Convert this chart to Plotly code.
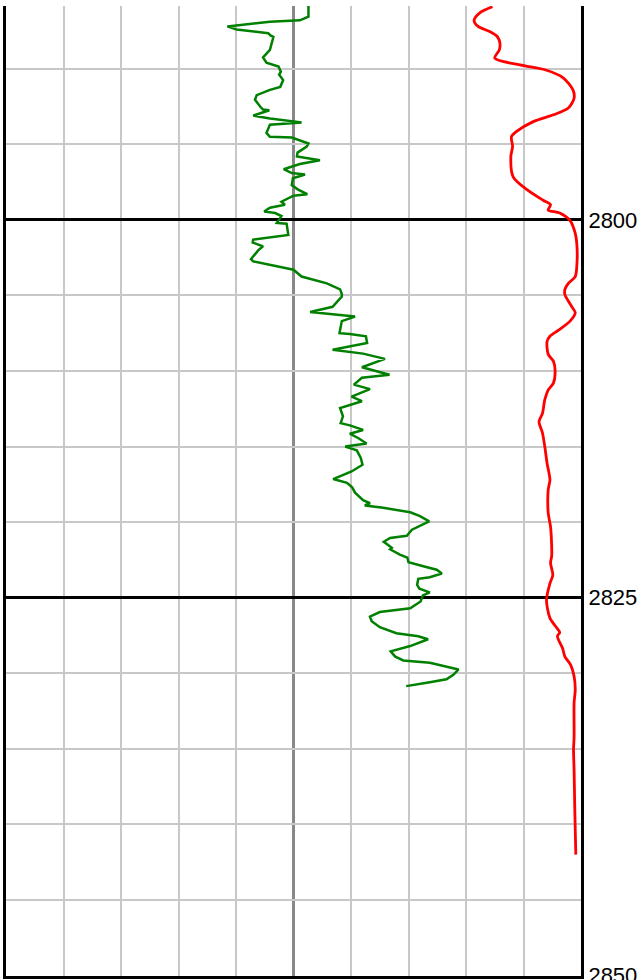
import plotly.graph_objects as go

# Green curve (track value 0-100, depth)
green_depth = [2785.85, 2786.55, 2786.8, 2786.9, 2787.2, 2787.4, 2787.65, 2787.8, 2787.9, 2788.75,
               2789.25, 2789.6, 2789.85, 2790.2, 2790.4, 2790.75, 2791.2, 2791.4, 2791.75, 2792.05,
               2792.5, 2792.7, 2792.75, 2793.1, 2793.3, 2793.55, 2793.7, 2794.25, 2794.5, 2794.55,
               2794.95, 2795.15, 2795.55, 2795.8, 2796.05, 2796.3, 2796.65, 2796.9, 2797.0, 2797.25,
               2797.7, 2798.0, 2798.3, 2798.4, 2798.8, 2799.0, 2799.2, 2799.45, 2799.55, 2799.75,
               2800.2, 2800.25, 2801.0, 2801.3, 2801.5, 2801.75, 2802.0, 2802.3, 2802.6, 2802.75,
               2803.3, 2803.75, 2804.2, 2804.6, 2804.9, 2805.07, 2805.6, 2805.75, 2806.1, 2806.4,
               2806.7, 2807.5, 2807.55, 2807.7, 2808.15, 2808.6, 2808.85, 2809.2, 2809.75, 2810.25,
               2810.45, 2810.9, 2811.2, 2811.7, 2812.0, 2812.45, 2813.0, 2813.45, 2813.6, 2813.9,
               2814.15, 2814.45, 2814.8, 2815.0, 2815.25, 2815.75, 2816.2, 2816.65, 2817.15, 2817.4,
               2817.7, 2818.05, 2818.55, 2818.75, 2818.9, 2819.05, 2819.35, 2819.6, 2819.95, 2820.25,
               2820.5, 2820.9, 2821.05, 2821.3, 2821.7, 2821.8, 2822.15, 2822.35, 2822.65, 2822.95,
               2823.15, 2823.4, 2823.65, 2823.75, 2824.15, 2824.4, 2824.65, 2824.85, 2825.25, 2825.7,
               2825.95, 2826.25, 2826.55, 2826.95, 2827.35, 2827.55, 2827.75, 2828.2, 2828.55, 2828.9,
               2829.15, 2829.3, 2829.55, 2829.75, 2830.1, 2830.4, 2830.6, 2830.85]
green_value = [52.6, 52.6, 51.1, 45.9, 38.5, 40.1, 45.6, 46.0, 46.5, 45.9,
               44.7, 45.3, 47.4, 47.8, 47.5, 48.2, 47.7, 45.9, 43.6, 43.3,
               44.2, 44.7, 45.8, 43.0, 45.9, 51.4, 45.9, 45.3, 45.9, 49.7,
               52.6, 52.3, 50.7, 50.6, 54.6, 51.1, 48.3, 49.7, 52.0, 49.9,
               49.7, 50.8, 52.4, 50.0, 47.9, 48.5, 45.9, 44.9, 46.8, 47.9,
               47.1, 48.8, 49.1, 43.0, 42.9, 44.7, 43.9, 43.3, 42.6, 43.0,
               50.0, 51.4, 55.8, 58.1, 58.4, 58.4, 57.2, 56.8, 52.9, 60.7,
               58.4, 58.0, 59.8, 62.6, 62.8, 56.8, 62.1, 65.9, 61.9, 66.7,
               61.9, 60.5, 63.3, 60.1, 61.9, 58.1, 58.6, 58.2, 59.8, 62.1,
               59.8, 61.3, 62.7, 59.0, 61.0, 61.7, 62.0, 60.1, 56.9, 59.3,
               60.2, 60.7, 62.1, 63.3, 62.4, 65.6, 70.3, 72.0, 73.6, 72.0,
               70.6, 69.7, 66.8, 65.7, 67.1, 66.8, 68.5, 69.8, 70.0, 72.9,
               74.9, 75.8, 73.7, 71.7, 71.5, 71.9, 73.7, 72.5, 72.1, 70.3,
               65.0, 63.3, 63.6, 65.0, 67.9, 71.7, 73.4, 70.3, 66.9, 67.7,
               69.1, 73.7, 76.6, 78.7, 77.8, 76.6, 73.7, 69.6]

# Red curve
red_depth = [2785.9, 2786.3, 2786.8, 2787.2, 2787.55, 2787.85, 2788.3, 2788.75, 2789.3, 2789.75,
             2790.1, 2790.6, 2791.4, 2791.95, 2792.6, 2793.05, 2793.5, 2794.15, 2794.5, 2795.15,
             2795.8, 2797.15, 2798.0, 2798.7, 2799.0, 2799.35, 2799.55, 2800.05, 2800.9, 2801.75,
             2802.85, 2803.75, 2804.2, 2804.6, 2804.95, 2805.75, 2806.15, 2806.7, 2807.3, 2807.7,
             2808.05, 2808.9, 2809.35, 2810.0, 2810.8, 2811.25, 2811.9, 2812.8, 2813.35, 2814.1,
             2815.0, 2816.1, 2817.2, 2817.85, 2819.4, 2820.3, 2821.6, 2822.25, 2822.7, 2823.5,
             2824.05, 2825.15, 2826.35, 2827.0, 2827.3, 2827.55, 2828.35, 2828.9, 2829.45, 2830.2,
             2831.1, 2831.95, 2834.2, 2835.05, 2836.4, 2838.6, 2840.35, 2842.0]
red_value = [84.6, 82.4, 81.4, 82.1, 84.2, 85.4, 85.9, 85.8, 85.0, 89.4,
             94.0, 96.9, 98.6, 98.8, 97.8, 95.2, 91.7, 88.8, 87.9, 88.1,
             87.8, 88.2, 90.6, 93.4, 94.7, 94.3, 96.3, 98.1, 99.0, 99.3,
             99.3, 99.0, 97.8, 97.2, 97.2, 98.4, 99.0, 98.1, 96.1, 94.6,
             94.1, 94.3, 95.2, 95.5, 95.2, 94.3, 93.7, 93.3, 92.7, 93.3,
             93.7, 94.1, 94.6, 94.3, 94.3, 94.7, 94.9, 94.9, 94.7, 95.1,
             94.6, 94.0, 94.6, 95.8, 96.3, 95.9, 96.8, 97.2, 98.2, 98.8,
             99.0, 98.8, 98.8, 98.7, 98.8, 98.9, 99.0, 99.1]

depth_ticks = [2800, 2825, 2850]
depth_range = [2850.03, 2785.85]
value_range = [0, 100]
value_grid = [0, 10, 20, 30, 40, 60, 70, 80, 90, 100]
value_mid = 50

fig = go.Figure()
fig.add_trace(go.Scatter(x=green_value, y=green_depth, mode="lines",
                         line=dict(color="#008000", width=2.5), showlegend=False))
fig.add_trace(go.Scatter(x=red_value, y=red_depth, mode="lines",
                         line=dict(color="#ff0000", width=2.8, shape="spline", smoothing=0.8),
                         showlegend=False))

fig.add_shape(type="line", xref="x", yref="paper", x0=value_mid, x1=value_mid, y0=0, y1=1,
              line=dict(color="#888888", width=3), layer="below")

fig.update_layout(
    width=640, height=980,
    margin=dict(l=6, r=59, t=6, b=4),
    plot_bgcolor="white", paper_bgcolor="white",
    font=dict(family="Liberation Sans, Arial, sans-serif", color="black"),
)
fig.update_xaxes(range=value_range, tickmode="array", tickvals=value_grid,
                 showticklabels=False, ticks="", automargin=False,
                 showgrid=True, gridcolor="#c8c8c8", gridwidth=1.5, zeroline=False,
                 showline=True, linecolor="black", linewidth=3)
fig.update_yaxes(range=depth_range, side="right", tickmode="array", tickvals=depth_ticks,
                 ticks="", tickfont=dict(size=22, color="black"), ticklabeloverflow="allow",
                 automargin=False,
                 showgrid=True, gridcolor="black", gridwidth=3, zeroline=False,
                 showline=True, linecolor="black", linewidth=3, mirror=True,
                 minor=dict(dtick=5, tick0=2800, showgrid=True, gridcolor="#c8c8c8", gridwidth=1.5))

fig.write_html("out.html", config={"displayModeBar": False},
               post_script="document.body.style.margin='0';document.body.style.overflow='hidden';")
